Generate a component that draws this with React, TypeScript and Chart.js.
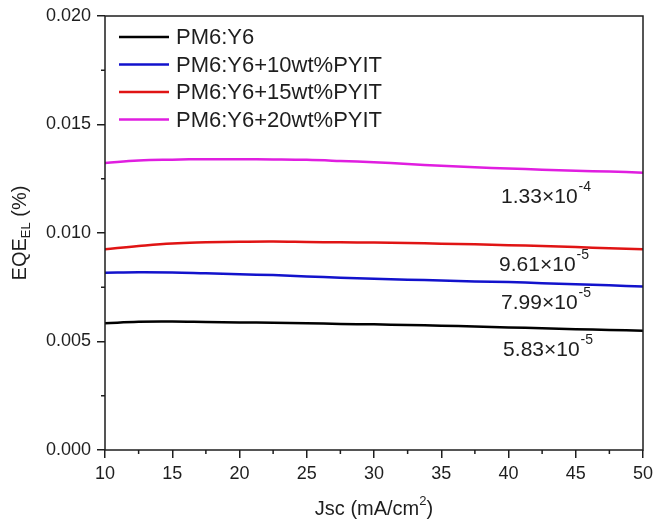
import React, { useEffect, useRef } from "react";
import { Chart, registerables } from "chart.js";

Chart.register(...registerables);

const jsc = [10, 12.5, 15, 17.5, 20, 22.5, 25, 27.5, 30, 32.5, 35, 37.5, 40, 42.5, 45, 47.5, 50];
const eqePM6Y6 = [0.00584, 0.00591, 0.00592, 0.0059, 0.00588, 0.00586, 0.00584, 0.00581, 0.00579, 0.00576, 0.00573, 0.00569, 0.00565, 0.00561, 0.00557, 0.00553, 0.0055];
const eqe10 = [0.00817, 0.00819, 0.00818, 0.00814, 0.0081, 0.00806, 0.008, 0.00794, 0.00789, 0.00785, 0.00781, 0.00777, 0.00774, 0.00769, 0.00764, 0.00759, 0.00753];
const eqe15 = [0.00925, 0.0094, 0.00952, 0.00957, 0.0096, 0.00961, 0.00959, 0.00957, 0.00956, 0.00954, 0.00951, 0.00948, 0.00944, 0.0094, 0.00935, 0.0093, 0.00925];
const eqe20 = [0.01322, 0.01334, 0.01338, 0.0134, 0.0134, 0.01339, 0.01337, 0.01332, 0.01326, 0.01318, 0.0131, 0.01303, 0.01297, 0.01292, 0.01287, 0.01283, 0.01278];

const seriesLabels = ["PM6:Y6", "PM6:Y6+10wt%PYIT", "PM6:Y6+15wt%PYIT", "PM6:Y6+20wt%PYIT"];
const seriesColors = ["#000000", "#1212cc", "#e01414", "#e01ee0"];

const noteMantissa = ["1.33×10", "9.61×10", "7.99×10", "5.83×10"];
const noteExponent = ["-4", "-5", "-5", "-5"];
const noteX = [39.45, 39.3, 39.45, 39.6];
const noteY = [0.01166, 0.00853, 0.00677, 0.00461];

const xMin = 10, xMax = 50, xStep = 5;
const yMin = 0, yMax = 0.02, yStep = 0.005;

const FONT = "'Liberation Sans', Arial, sans-serif";
const INK = "#1e1e1e";

const decorPlugin = {
  id: "decor",
  afterDraw(chart: any) {
    const ctx = chart.ctx;
    const { left, right, top, bottom } = chart.chartArea;
    const xs = chart.scales.x;
    const ys = chart.scales.y;
    ctx.save();
    // box
    ctx.strokeStyle = INK;
    ctx.lineWidth = 1.5;
    ctx.strokeRect(left, top, right - left, bottom - top);
    // minor ticks
    ctx.beginPath();
    for (let v = xMin + xStep / 2; v < xMax; v += xStep) {
      const px = xs.getPixelForValue(v);
      ctx.moveTo(px, bottom);
      ctx.lineTo(px, bottom + 4);
    }
    for (let v = yMin + yStep / 2; v < yMax; v += yStep) {
      const py = ys.getPixelForValue(v);
      ctx.moveTo(left, py);
      ctx.lineTo(left - 4, py);
    }
    ctx.stroke();

    // legend
    ctx.textBaseline = "middle";
    ctx.textAlign = "left";
    ctx.font = `22px ${FONT}`;
    seriesLabels.forEach((lab, i) => {
      const y = top + 21 + i * 27.5;
      ctx.strokeStyle = seriesColors[i];
      ctx.lineWidth = 2.5;
      ctx.beginPath();
      ctx.moveTo(left + 14, y);
      ctx.lineTo(left + 64, y);
      ctx.stroke();
      ctx.fillStyle = INK;
      ctx.fillText(lab, left + 71, y + 1);
    });

    // annotations
    noteMantissa.forEach((m, i) => {
      const px = xs.getPixelForValue(noteX[i]);
      const py = ys.getPixelForValue(noteY[i]);
      ctx.font = `21px ${FONT}`;
      ctx.fillStyle = INK;
      ctx.textBaseline = "middle";
      ctx.fillText(m, px, py);
      const w = ctx.measureText(m).width;
      ctx.font = `14px ${FONT}`;
      ctx.fillText(noteExponent[i], px + w + 1, py - 10);
    });

    // x title
    ctx.textBaseline = "middle";
    const t1 = "Jsc (mA/cm";
    const t2 = "2";
    const t3 = ")";
    ctx.font = `20px ${FONT}`;
    const w1 = ctx.measureText(t1).width;
    const w3 = ctx.measureText(t3).width;
    ctx.font = `13px ${FONT}`;
    const w2 = ctx.measureText(t2).width;
    const total = w1 + w2 + w3;
    const cx = (left + right) / 2 - total / 2;
    const ty = 509;
    ctx.font = `20px ${FONT}`;
    ctx.fillText(t1, cx, ty);
    ctx.font = `13px ${FONT}`;
    ctx.fillText(t2, cx + w1, ty - 8);
    ctx.font = `20px ${FONT}`;
    ctx.fillText(t3, cx + w1 + w2, ty);

    // y title (rotated)
    ctx.translate(20, (top + bottom) / 2);
    ctx.rotate(-Math.PI / 2);
    const a = "EQE";
    const b = "EL";
    const c = " (%)";
    ctx.font = `20px ${FONT}`;
    const wa = ctx.measureText(a).width;
    const wc = ctx.measureText(c).width;
    ctx.font = `13px ${FONT}`;
    const wb = ctx.measureText(b).width;
    const tot = wa + wb + wc;
    const sx = -tot / 2;
    ctx.font = `20px ${FONT}`;
    ctx.fillText(a, sx, 0);
    ctx.font = `13px ${FONT}`;
    ctx.fillText(b, sx + wa, 6);
    ctx.font = `20px ${FONT}`;
    ctx.fillText(c, sx + wa + wb, 0);
    ctx.restore();
  },
};

export default function App() {
  const ref = useRef<HTMLCanvasElement | null>(null);
  useEffect(() => {
    if (!ref.current) return;
    const datasets = [eqePM6Y6, eqe10, eqe15, eqe20].map((vals, i) => ({
      label: seriesLabels[i],
      data: jsc.map((x, k) => ({ x, y: vals[k] })),
      borderColor: seriesColors[i],
      backgroundColor: seriesColors[i],
      borderWidth: 2.5,
      pointRadius: 0,
      tension: 0.4,
      fill: false,
    }));
    const chart = new Chart(ref.current, {
      type: "line",
      data: { datasets },
      options: {
        animation: false,
        responsive: false,
        maintainAspectRatio: false,
        layout: { padding: { top: 16, right: 12, left: 0, bottom: 0 } },
        plugins: { legend: { display: false }, tooltip: { enabled: false } },
        scales: {
          x: {
            type: "linear",
            min: xMin,
            max: xMax,
            afterFit: (s: any) => { s.height = 74; s.paddingLeft = 0; s.paddingRight = 0; },
            border: { display: false },
            grid: { drawOnChartArea: false, drawTicks: true, tickLength: 8, color: INK, lineWidth: 1.5 },
            ticks: { stepSize: xStep, color: INK, font: { family: FONT, size: 18 }, padding: 5, maxRotation: 0 },
          },
          y: {
            type: "linear",
            min: yMin,
            max: yMax,
            afterFit: (s: any) => { s.width = 105; s.paddingTop = 0; s.paddingBottom = 0; },
            border: { display: false },
            grid: { drawOnChartArea: false, drawTicks: true, tickLength: 8, color: INK, lineWidth: 1.5 },
            ticks: {
              stepSize: yStep,
              color: INK,
              font: { family: FONT, size: 18 },
              padding: 6,
              callback: (v: any) => Number(v).toFixed(3),
            },
          },
        },
      },
      plugins: [decorPlugin],
    });
    return () => chart.destroy();
  }, []);
  return (
    <div style={{ position: "fixed", left: 0, top: 0, width: 655, height: 524, background: "#fff" }}>
      <canvas ref={ref} width={655} height={524} style={{ width: 655, height: 524 }} />
    </div>
  );
}
